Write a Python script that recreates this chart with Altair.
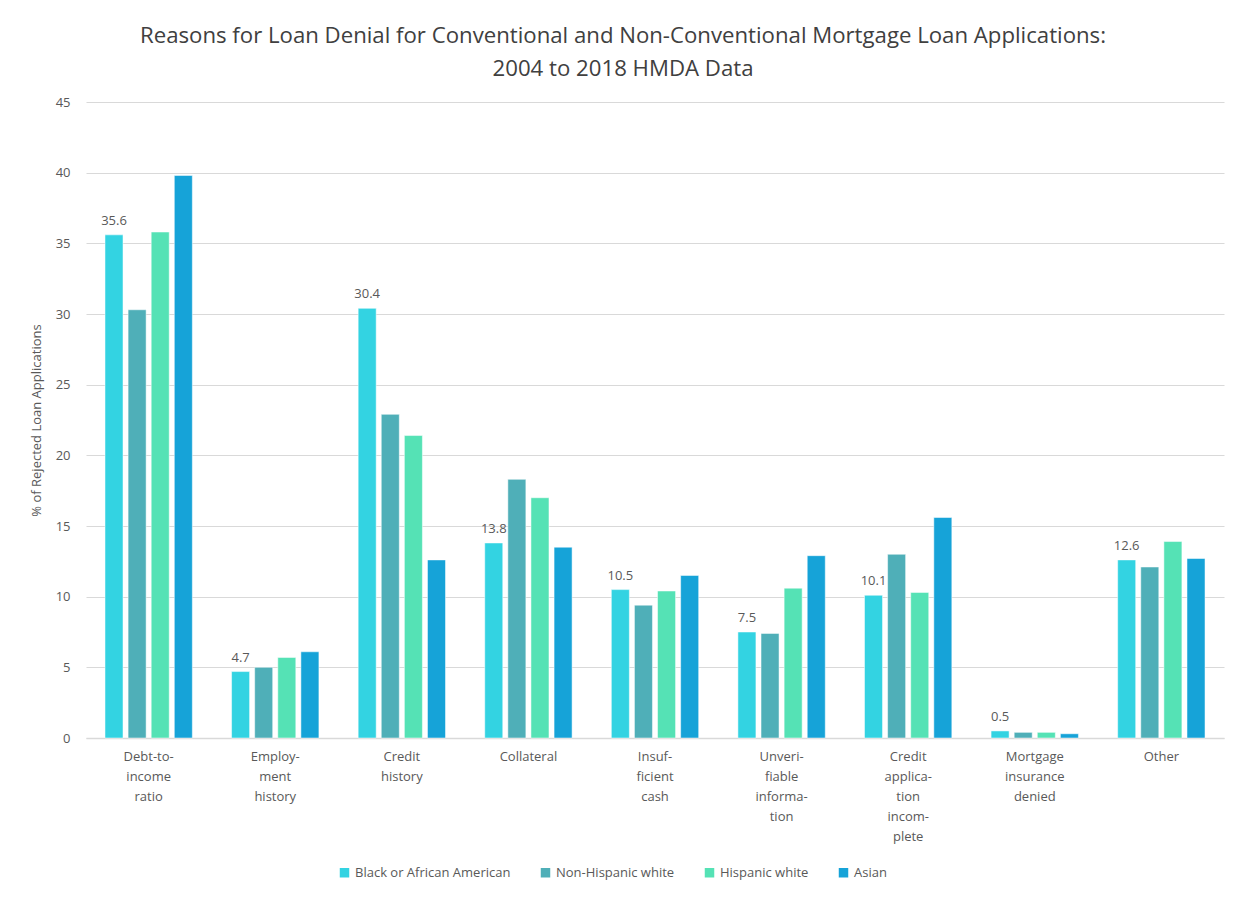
import altair as alt
import pandas as pd

categories = ["Debt-to-income ratio", "Employment history", "Credit history", "Collateral",
              "Insufficient cash", "Unverifiable information", "Credit application incomplete",
              "Mortgage insurance denied", "Other"]
category_labels = ["Debt-to-|income|ratio", "Employ-|ment|history", "Credit|history", "Collateral",
                   "Insuf-|ficient|cash", "Unveri-|fiable|informa-|tion", "Credit|applica-|tion|incom-|plete",
                   "Mortgage|insurance|denied", "Other"]
groups = ["Black or African American", "Non-Hispanic white", "Hispanic white", "Asian"]
colors = ["#33D3E2", "#4FAFB8", "#55E2B5", "#16A3D8"]

black = [35.6, 4.7, 30.4, 13.8, 10.5, 7.5, 10.1, 0.5, 12.6]
nh_white = [30.3, 5.0, 22.9, 18.3, 9.4, 7.4, 13.0, 0.4, 12.1]
h_white = [35.8, 5.7, 21.4, 17.0, 10.4, 10.6, 10.3, 0.4, 13.9]
asian = [39.8, 6.1, 12.6, 13.5, 11.5, 12.9, 15.6, 0.3, 12.7]

series = [black, nh_white, h_white, asian]
rows = []
for g, vals in zip(groups, series):
    for c, v in zip(categories, vals):
        rows.append({"category": c, "group": g, "value": v})
df = pd.DataFrame(rows)

label_map = "{" + ",".join(f"'{c}': '{l}'" for c, l in zip(categories, category_labels)) + "}"

x = alt.X("category:N", sort=categories, title=None,
          scale=alt.Scale(paddingInner=0.31, paddingOuter=0.15),
          axis=alt.Axis(labelAngle=0, labelExpr=f"split({label_map}[datum.label], '|')",
                        labelFont="Open Sans", labelFontSize=13, labelColor="#595959",
                        labelPadding=12, ticks=False, domainColor="#D9D9D9", domainWidth=1.5,
                        labelLineHeight=20, labelBaseline="top", grid=False))
y = alt.Y("value:Q", title="% of Rejected Loan Applications",
          scale=alt.Scale(domain=[0, 45]),
          axis=alt.Axis(values=list(range(0, 50, 5)), grid=True, gridColor="#D9D9D9",
                        domain=False, ticks=False, labelFont="Open Sans", labelFontSize=13,
                        labelColor="#595959", labelPadding=16, titleFont="Open Sans",
                        titleFontSize=13, titleColor="#595959", titleFontWeight="normal",
                        titlePadding=12))

bars = alt.Chart(df).mark_bar(stroke="white", strokeWidth=0.5).encode(
    x=x, y=y,
    xOffset=alt.XOffset("group:N", sort=groups, scale=alt.Scale(paddingInner=0.22)),
    color=alt.Color("group:N", sort=groups,
                    scale=alt.Scale(domain=groups, range=colors),
                    legend=alt.Legend(title=None, orient="none", direction="horizontal",
                                      legendX=252, legendY=764,
                                      symbolType="square", symbolSize=90, labelFont="Open Sans",
                                      labelFontSize=13, labelColor="#595959", columnPadding=28,
                                      symbolStrokeWidth=0)),
)

labels = alt.Chart(df[df["group"] == groups[0]]).mark_text(
    dy=-14, font="Open Sans", fontSize=13, color="#595959"
).encode(
    x=alt.X("category:N", sort=categories),
    xOffset=alt.XOffset("group:N", sort=groups),
    y="value:Q",
    text=alt.Text("value:Q", format=".1f"),
)

chart = alt.layer(bars, labels).properties(
    width=1138, height=636,
    background="white",
    title=alt.Title(["Reasons for Loan Denial for Conventional and Non-Conventional Mortgage Loan Applications:",
                     "2004 to 2018 HMDA Data"],
                    font="Open Sans", fontSize=22.2, fontWeight="normal", color="#404040",
                    lineHeight=33, offset=16, anchor="middle", dx=-32),
    padding={"left": 22, "top": 16, "right": 10, "bottom": 10},
).configure_view(strokeWidth=0, stroke="transparent")

chart.save("out.html", embed_options={"renderer": "svg", "actions": False})
